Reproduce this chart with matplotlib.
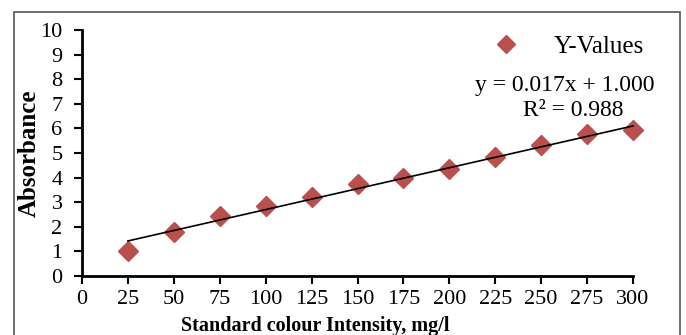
import numpy as np
import matplotlib.pyplot as plt
from matplotlib.patches import Rectangle

# Data
conc = [25, 50, 75, 100, 125, 150, 175, 200, 225, 250, 275, 300]
absorb = [1.0, 1.8, 2.42, 2.85, 3.22, 3.75, 3.97, 4.35, 4.82, 5.32, 5.78, 5.95]
xticks = [0, 25, 50, 75, 100, 125, 150, 175, 200, 225, 250, 275, 300]
slope = 0.017
intercept = 1.0

plt.rcParams['font.family'] = ['Liberation Serif', 'DejaVu Serif']

fig = plt.figure(figsize=(6.86, 3.35), dpi=100)
ax = fig.add_axes([82/686, 1-276/335, (633-82)/686, (276-30)/335])

# outer frame
fig.patches.append(Rectangle((14/686, -0.2), (680-14)/686, 1.2 - 12/335,
                             transform=fig.transFigure, fill=False,
                             edgecolor='#555555', linewidth=1.2))

ax.plot(conc, absorb, 'D', color='#b9504e', markersize=10, label='Y-Values',
        zorder=2, clip_on=False)
xl = np.array([conc[0], conc[-1]])
ax.plot(xl, slope*xl + intercept, color='black', linewidth=1.2, zorder=3,
        clip_on=False)

ax.set_xlim(0, 300)
ax.set_ylim(0, 10)
ax.set_xticks(xticks)
ax.set_yticks(range(0, 11))
for s in ['top', 'right']:
    ax.spines[s].set_visible(False)
for s in ['left', 'bottom']:
    ax.spines[s].set_linewidth(2)
ax.tick_params(axis='both', labelsize=16, width=1.5, length=6, direction='out')
ax.tick_params(axis='x', pad=4)
ax.tick_params(axis='y', pad=8)

ax.set_ylabel('Absorbance', fontsize=18, fontweight='bold', labelpad=0)
fig.text(315/686, 1-326/335, 'Standard colour Intensity, mg/l', fontsize=14.5,
         fontweight='bold', ha='center', va='center')

ax.legend(loc='upper right', bbox_to_anchor=(1.06, 1.07), frameon=False,
          fontsize=18, handletextpad=0.9, markerscale=0.9)
fig.text(565/686, 1-86/335, 'y = 0.017x + 1.000', fontsize=17, ha='center', va='center')
fig.text(573/686, 1-110/335, 'R² = 0.988', fontsize=17, ha='center', va='center')

fig.savefig('out.png', dpi=100)
